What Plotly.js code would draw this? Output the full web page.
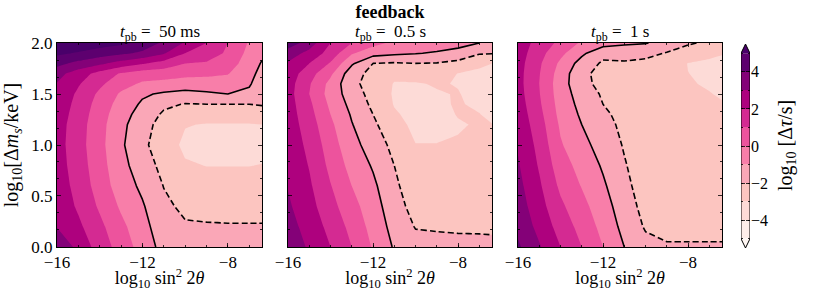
<!DOCTYPE html>
<html><head><meta charset="utf-8">
<script src="https://cdn.plot.ly/plotly-3.0.1.min.js"></script>
<style>html,body{margin:0;padding:0;background:#fff}#chart{width:830px;height:291px}</style>
</head><body><div id="chart"></div>
<script>
// grid of the maps
const xVals = [-16, -15, -14, -13, -12, -11, -10, -9, -8, -7, -6.4];
const yVals = [0, 0.2, 0.4, 0.6, 0.8, 1.0, 1.2, 1.3, 1.4, 1.5, 1.6, 1.7, 1.8, 1.9, 2.0];

// log10(Δτ/s); each inner array is one column (fixed x), values along yVals
const z50ms = [
  [3.9, 2.95, 2.7, 2.55, 2.45, 2.4, 2.45, 2.55, 2.7, 2.85, 2.95, 3.35, 4.3, 5.2, 6.0],
  [2.7, 2.2, 1.85, 1.65, 1.5, 1.4, 1.45, 1.55, 1.65, 1.8, 2.1, 2.5, 3.7, 4.9, 5.8],
  [1.55, 1.25, 0.85, 0.55, 0.4, 0.3, 0.35, 0.45, 0.6, 0.8, 1.2, 1.65, 3.2, 4.5, 5.5],
  [0.57, 0.25, -0.15, -0.5, -0.7, -0.84, -0.75, -0.6, -0.4, -0.14, 0.4, 0.9, 2.6, 4.2, 5.2],
  [-0.42, -0.65, -0.9, -1.2, -1.5, -1.8, -1.6, -1.4, -1.15, -0.85, -0.15, 0.5, 2.1, 3.8, 4.7],
  [-1.35, -1.6, -1.8, -2.03, -2.3, -2.5, -2.4, -2.15, -1.8, -1.15, -0.3, 0.45, 1.6, 3.1, 3.8],
  [-1.6, -1.9, -2.2, -2.55, -2.9, -3.2, -2.95, -2.55, -2.05, -1.3, -0.5, 0.3, 1.0, 2.0, 2.9],
  [-1.7, -1.93, -2.25, -2.6, -3.02, -3.35, -3.05, -2.6, -2.0, -1.15, -0.45, 0.2, 0.9, 1.5, 2.0],
  [-1.75, -1.95, -2.25, -2.62, -3.02, -3.4, -3.05, -2.6, -2.0, -1.0, -0.45, 0.05, 0.5, 0.85, 1.0],
  [-1.78, -1.95, -2.25, -2.62, -3.02, -3.4, -3.05, -2.6, -2.0, -1.2, -0.9, -0.7, -0.5, -0.3, -0.1],
  [-1.8, -1.95, -2.25, -2.6, -2.97, -3.35, -3.0, -2.6, -1.9, -1.7, -1.5, -1.3, -1.08, -0.8, -0.6]
];
const z05s = [
  [3.8, 3.4, 3.15, 2.95, 2.8, 2.65, 2.55, 2.5, 2.45, 2.4, 2.45, 2.6, 2.9, 3.5, 4.6],
  [2.83, 2.6, 2.35, 2.15, 1.95, 1.75, 1.5, 1.35, 1.2, 1.0, 1.1, 1.4, 2.0, 2.7, 3.5],
  [2.0, 1.7, 1.35, 1.05, 0.75, 0.5, 0.2, 0.0, -0.2, -0.4, -0.3, 0.2, 0.9, 1.6, 2.0],
  [1.0, 0.7, 0.35, 0.0, -0.35, -0.7, -0.95, -1.1, -1.3, -1.5, -1.75, -1.6, -0.85, 0.1, 1.0],
  [-0.1, -0.35, -0.55, -0.8, -1.1, -1.4, -1.8, -2.0, -2.2, -2.35, -2.4, -2.3, -2.0, -0.6, 0.3],
  [-1.1, -1.35, -1.6, -1.8, -2.0, -2.3, -2.7, -2.9, -3.05, -3.1, -3.05, -2.8, -2.1, -0.8, -0.2],
  [-1.65, -2.05, -2.35, -2.6, -2.8, -2.98, -3.2, -3.25, -3.25, -3.2, -3.05, -2.7, -2.0, -0.95, -0.4],
  [-1.75, -2.08, -2.4, -2.6, -2.8, -2.98, -3.2, -3.2, -3.1, -3.05, -2.95, -2.6, -2.05, -1.1, -0.5],
  [-1.8, -2.1, -2.4, -2.6, -2.8, -2.95, -3.05, -2.97, -2.95, -2.97, -3.03, -3.02, -2.3, -1.3, -0.7],
  [-1.82, -2.1, -2.4, -2.6, -2.8, -2.9, -2.95, -2.98, -3.1, -3.2, -3.2, -3.1, -2.9, -1.9, -1.0],
  [-1.85, -2.1, -2.4, -2.6, -2.8, -2.9, -2.98, -3.15, -3.25, -3.3, -3.3, -3.2, -3.0, -1.95, -1.3]
];
const z1s = [
  [4.15, 3.75, 3.5, 3.3, 3.1, 2.9, 2.7, 2.6, 2.5, 2.4, 2.35, 2.35, 2.4, 2.5, 2.6],
  [3.1, 2.7, 2.4, 2.15, 1.9, 1.7, 1.45, 1.3, 1.15, 1.05, 1.0, 1.05, 1.15, 1.35, 1.6],
  [2.0, 1.6, 1.2, 0.8, 0.45, 0.1, -0.15, -0.3, -0.4, -0.5, -0.55, -0.45, -0.2, 0.25, 0.75],
  [1.0, 0.65, 0.3, -0.05, -0.35, -0.7, -1.0, -1.15, -1.3, -1.45, -1.7, -1.75, -1.4, -0.8, -0.15],
  [0.0, -0.3, -0.55, -0.85, -1.12, -1.4, -1.7, -1.85, -2.0, -2.12, -2.3, -2.35, -2.15, -1.7, -0.6],
  [-1.0, -1.3, -1.55, -1.75, -1.92, -2.08, -2.2, -2.25, -2.28, -2.3, -2.3, -2.25, -2.12, -1.6, -0.85],
  [-1.7, -2.1, -2.3, -2.45, -2.55, -2.62, -2.65, -2.65, -2.63, -2.6, -2.5, -2.35, -2.25, -1.7, -0.95],
  [-1.93, -2.2, -2.4, -2.55, -2.65, -2.72, -2.75, -2.78, -2.8, -2.8, -2.75, -2.6, -2.35, -2.07, -1.3],
  [-1.93, -2.2, -2.4, -2.55, -2.65, -2.75, -2.8, -2.85, -2.88, -2.92, -2.96, -2.99, -3.03, -2.4, -1.9],
  [-1.93, -2.2, -2.4, -2.55, -2.68, -2.78, -2.85, -2.9, -2.95, -2.98, -3.05, -3.15, -3.08, -2.9, -2.15],
  [-1.93, -2.2, -2.4, -2.55, -2.7, -2.8, -2.88, -2.93, -2.97, -3.05, -3.2, -3.3, -3.2, -2.95, -2.5]
];
const panelData = [z50ms, z05s, z1s];
const panelTitles = ['<i>t</i><sub>pb</sub> = \u00a050 ms', '<i>t</i><sub>pb</sub> = \u00a00.5 s', '<i>t</i><sub>pb</sub> = \u00a01 s'];
const levels = [-5, -4, -3, -2, -1, 0, 1, 2, 3, 4, 5];
const solidLevel = -1;
const dashedLevel = -2;
const xTicks = [-16, -12, -8];
const cbTicks = [-4, -2, 0, 2, 4];

// ---- style ----
const FONT = 'Liberation Serif, DejaVu Serif, serif';
const rdpu = ['#fff7f3','#fde0dd','#fcc5c0','#fa9fb5','#f768a1','#dd3497','#ae017e','#7a0177','#49006a'];
function hex2rgb(h){return [1,3,5].map(i=>parseInt(h.substr(i,2),16));}
function sample(t){
  const p = t*(rdpu.length-1); let i = Math.floor(p); if(i>=rdpu.length-1) i = rdpu.length-2;
  const f = p-i, a = hex2rgb(rdpu[i]), b = hex2rgb(rdpu[i+1]);
  const c = a.map((v,k)=>Math.round(v+(b[k]-v)*f));
  return 'rgb('+c.join(',')+')';
}
const nb = levels.length-1;
const bandColors = [sample(0)];
for(let k=0;k<nb;k++) bandColors.push(sample((k+0.5)/nb));
bandColors.push(sample(1));
const zlo = levels[0]-1, zhi = levels[levels.length-1]+1;
const cscale = [];
bandColors.forEach((c,k)=>{cscale.push([k/bandColors.length,c]);cscale.push([(k+1)/bandColors.length,c]);});

const xDomains = [[0.0687,0.3157],[0.3470,0.5928],[0.6241,0.8699]];
const yDomain = [0.1512,0.8522];

const traces = [];
const layout = {
  width:830, height:291, margin:{l:0,r:0,t:0,b:0},
  paper_bgcolor:'#fff', plot_bgcolor:'#fff', showlegend:false,
  font:{family:FONT, color:'#000', size:17},
  title:{text:'<b>feedback</b>', x:0.47, xanchor:'center', y:1-12/291, yanchor:'middle', font:{family:FONT,size:18,color:'#000'}},
  annotations:[]
};
const tickCommon = {ticks:'inside', ticklen:4, tickwidth:0.8, tickcolor:'#000', mirror:'allticks',
  showline:true, linecolor:'#000', linewidth:1, showgrid:false, zeroline:false, fixedrange:true,
  tickfont:{family:FONT,size:17,color:'#000'}};

panelData.forEach((z,p)=>{
  const xa = p===0?'x':'x'+(p+1), ya = p===0?'y':'y'+(p+1);
  traces.push({type:'contour', x:xVals, y:yVals, z:z, transpose:true, xaxis:xa, yaxis:ya,
    zmin:zlo, zmax:zhi, colorscale:cscale, showscale:false, autocontour:false,
    contours:{coloring:'fill', start:levels[0], end:levels[levels.length-1], size:1, showlines:false},
    line:{width:0, smoothing:0}, hoverinfo:'skip'});
  traces.push({type:'contour', x:xVals, y:yVals, z:z, transpose:true, xaxis:xa, yaxis:ya,
    showscale:false, autocontour:false,
    contours:{coloring:'none', start:solidLevel, end:solidLevel, size:1},
    line:{color:'#000', width:1.6, smoothing:0}, hoverinfo:'skip'});
  traces.push({type:'contour', x:xVals, y:yVals, z:z, transpose:true, xaxis:xa, yaxis:ya,
    showscale:false, autocontour:false,
    contours:{coloring:'none', start:dashedLevel, end:dashedLevel, size:1},
    line:{color:'#000', width:1.6, smoothing:0, dash:'6px,3px'}, hoverinfo:'skip'});
  const xk = p===0?'xaxis':'xaxis'+(p+1), yk = p===0?'yaxis':'yaxis'+(p+1);
  layout[xk] = Object.assign({}, tickCommon, {domain:xDomains[p], anchor:ya, range:[xVals[0], xVals[xVals.length-1]],
    tickvals:xTicks, ticktext:xTicks.map(v=>'\u2212'+Math.abs(v)),
    minor:{dtick:1, tick0:0, ticks:'inside', ticklen:2, tickwidth:0.8, tickcolor:'#000', showgrid:false},
    title:{text:'log<sub>10</sub> sin<sup>2</sup> 2<i>θ</i>', font:{family:FONT,size:18,color:'#000'}, standoff:2}});
  layout[yk] = Object.assign({}, tickCommon, {domain:yDomain, anchor:xa, range:[yVals[0], yVals[yVals.length-1]],
    dtick:0.5, tick0:0, tickformat:'.1f', showticklabels:p===0,
    minor:{dtick:0.5/3, tick0:0, ticks:'inside', ticklen:2, tickwidth:0.8, tickcolor:'#000', showgrid:false}});
  if(p===0) layout[yk].title = {text:'log<sub>10</sub>[Δ<i>m</i><sub><i>s</i></sub>/keV]', font:{family:FONT,size:20,color:'#000'}, standoff:8};
  layout.annotations.push({text:panelTitles[p], xref:'paper', yref:'paper', x:(xDomains[p][0]+xDomains[p][1])/2,
    y:1-46/291, xanchor:'center', yanchor:'bottom', showarrow:false, font:{family:FONT,size:17,color:'#000'}});
});

// ---- colorbar built from the same levels ----
const centers = levels.slice(0,-1).map((v,i)=>(v+levels[i+1])/2);
traces.push({type:'heatmap', x:[0.5], y:centers, z:centers.map(c=>[c]), zmin:zlo, zmax:zhi,
  colorscale:cscale, showscale:false, xaxis:'x4', yaxis:'y4', hoverinfo:'skip'});
const lo = levels[0], hi = levels[levels.length-1], tip = 0.5;
traces.push({type:'scatter', mode:'lines', x:[0,0.5,1,0], y:[hi,hi+tip,hi,hi], fill:'toself', fillcolor:bandColors[bandColors.length-1],
  line:{width:0}, xaxis:'x4', yaxis:'y4', hoverinfo:'skip'});
traces.push({type:'scatter', mode:'lines', x:[0,0.5,1,0], y:[lo,lo-tip,lo,lo], fill:'toself', fillcolor:bandColors[0],
  line:{width:0}, xaxis:'x4', yaxis:'y4', hoverinfo:'skip'});
traces.push({type:'scatter', mode:'lines', x:[0,0,0.5,1,1,0.5,0], y:[lo,hi,hi+tip,hi,lo,lo-tip,lo],
  line:{color:'#000', width:1}, xaxis:'x4', yaxis:'y4', hoverinfo:'skip'});
layout.xaxis4 = {domain:[741/830, 750/830], anchor:'y4', range:[0,1], visible:false, fixedrange:true};
layout.yaxis4 = {domain:[1-248/291, 1-44/291], anchor:'x4', side:'right', range:[lo-tip, hi+tip],
  tickvals:cbTicks, ticktext:cbTicks.map(v=>v<0?'\u2212'+Math.abs(v):String(v)),
  ticks:'inside', ticklen:4, tickwidth:0.8, tickcolor:'#000', mirror:'allticks', showline:false,
  minor:{dtick:1, tick0:0, ticks:'inside', ticklen:2, tickwidth:0.8, tickcolor:'#000', showgrid:false},
  showgrid:false, zeroline:false, fixedrange:true, tickfont:{family:FONT,size:16,color:'#000'}};
layout.annotations.push({text:'log<sub>10</sub> [Δ<i>τ</i>/s]', xref:'paper', yref:'paper', x:786/830, y:1-146/291,
  xanchor:'center', yanchor:'middle', textangle:-90, showarrow:false, font:{family:FONT,size:20,color:'#000'}});

Plotly.newPlot('chart', traces, layout, {staticPlot:true, displayModeBar:false});
</script></body></html>
